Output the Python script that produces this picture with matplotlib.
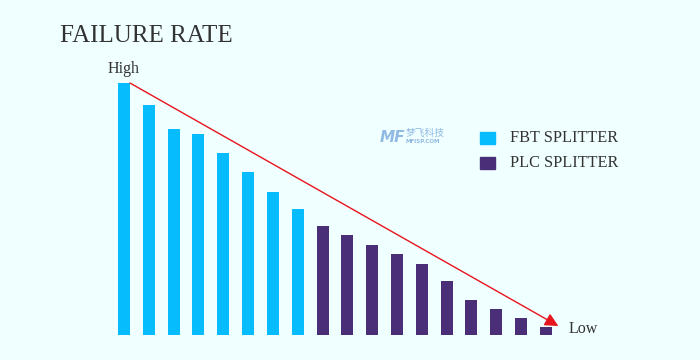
import matplotlib.pyplot as plt
from matplotlib.patches import Rectangle

# bar heights (relative failure rate)
fbt_values = [252, 230, 206, 201, 182, 163, 143, 126]
plc_values = [109, 100, 90, 81, 71, 54, 35, 26, 17, 8]
legend_labels = ['FBT SPLITTER', 'PLC SPLITTER']

fbt_color = '#06bcfc'
plc_color = '#4a2e77'
bg_color = '#f0ffff'
serif = ['Liberation Serif', 'DejaVu Serif']

fig = plt.figure(figsize=(7, 3.6), dpi=100, facecolor=bg_color)
ax = fig.add_axes([0, 0, 1, 1])
ax.set_facecolor(bg_color)

# one index unit = 24.82 px, first bar centre at x=124 px
ax.set_xlim(-124 / 24.82, (700 - 124) / 24.82)
ax.set_ylim(-25, 335)
ax.axis('off')

values = fbt_values + plc_values
colors = [fbt_color] * len(fbt_values) + [plc_color] * len(plc_values)
xs = list(range(len(values)))
ax.bar(xs, values, width=0.485, color=colors)

# trend arrow from the first bar to the last one
ax.annotate('', xy=(xs[-1] + 0.5, values[-1] + 1), xytext=(xs[0] + 0.24, values[0]),
            arrowprops=dict(arrowstyle='-|>,head_length=0.8,head_width=0.4',
                            color='#e8141e', lw=1.0, shrinkA=0, shrinkB=0))

ax.text(xs[0], values[0] + 6, 'High', ha='center', va='bottom', fontsize=11.5,
        family=serif, color='#333333')
ax.text(xs[-1] + 0.9, values[-1] - 2, 'Low', ha='left', va='center', fontsize=11.5,
        family=serif, color='#333333')

fig.text(60 / 700, 1 - 36 / 360, 'FAILURE RATE', ha='left', va='center',
         fontsize=18, family=serif, color='#333333')

# legend
for k, (lab, col) in enumerate(zip(legend_labels, [fbt_color, plc_color])):
    y = 1 - (138 + 25 * k) / 360
    fig.patches.append(Rectangle((480 / 700, y - 6 / 360), 15 / 700, 12 / 360,
                                 transform=fig.transFigure, color=col))
    fig.text(510 / 700, y, lab, ha='left', va='center', fontsize=11.7,
             family=serif, color='#333333')

# faint watermark
wm = '#7aa9dc'
fig.text(380 / 700, 1 - 137 / 360, 'MF', ha='left', va='center', fontsize=11,
         fontweight='bold', style='italic', color=wm, alpha=0.8)
fig.text(406 / 700, 1 - 133 / 360, '梦飞科技', ha='left', va='center', fontsize=7,
         family=['Noto Sans CJK SC', 'DejaVu Sans'], color=wm, alpha=0.8)
fig.text(406 / 700, 1 - 142 / 360, 'MFISP.COM', ha='left', va='center', fontsize=4,
         fontweight='bold', color=wm, alpha=0.8)

fig.savefig('out.png', dpi=100, facecolor=bg_color)
